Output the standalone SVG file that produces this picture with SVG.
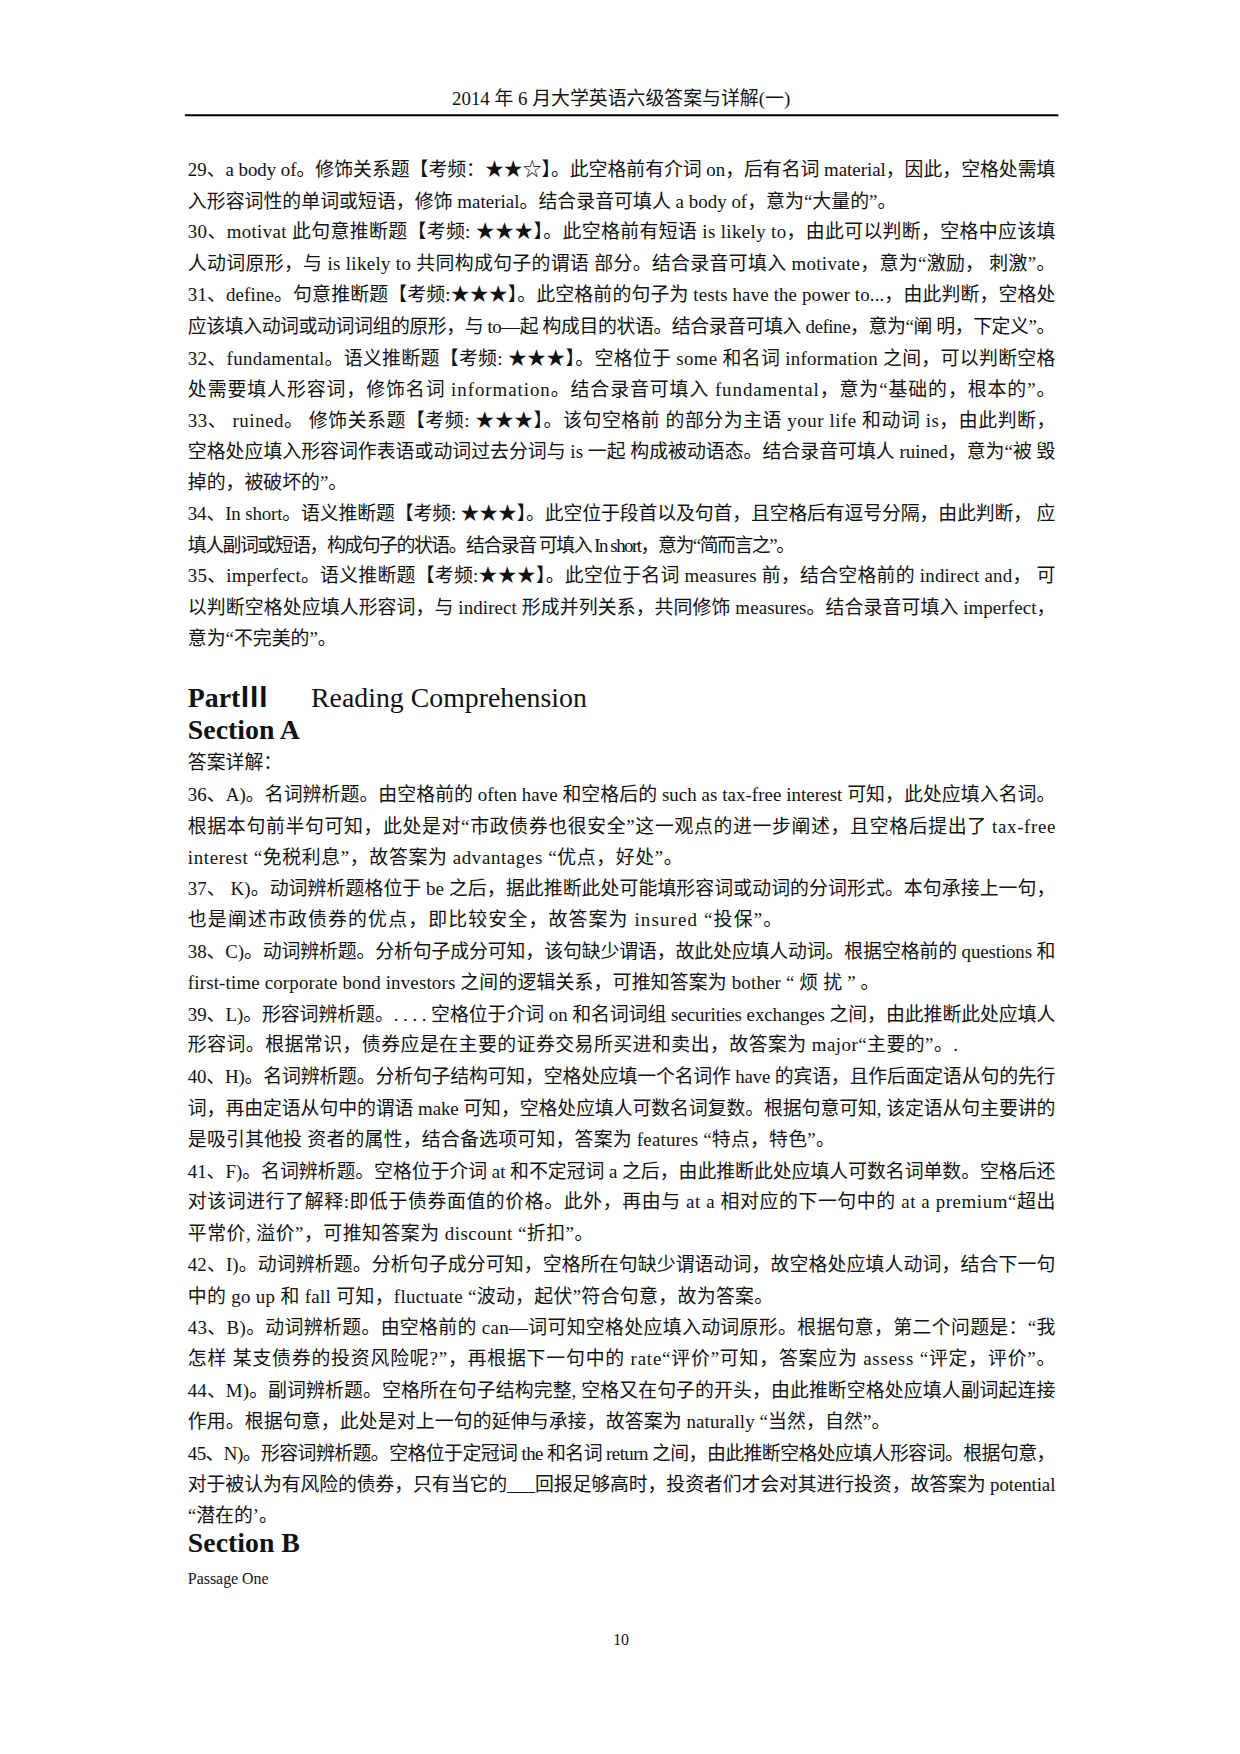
<svg xmlns="http://www.w3.org/2000/svg" width="1240" height="1754" viewBox="0 0 1240 1754">
<style>
text{font-family:"Liberation Serif","Noto Sans CJK SC",serif;font-size:19px;fill:#111}
.h{font-size:28px}
.b{font-weight:bold}
.s{font-size:16px}
</style>
<rect width="1240" height="1754" fill="#fff"/>
<g transform="scale(0.9938)">
<g id="header">
<text x="625" y="106" text-anchor="middle" font-size="18">2014 年 6 月大学英语六级答案与详解(一)</text>
<line x1="186" y1="116" x2="1065" y2="116" stroke="#000" stroke-width="2"/>
</g>
<g id="body" lengthAdjust="spacing">
<text x="189" y="177" textLength="873">29、a body of。修饰关系题【考频：★★☆】。此空格前有介词 on，后有名词 material，因此，空格处需填</text>
<text x="189" y="209" textLength="713">入形容词性的单词或短语，修饰 material。结合录音可填人 a body of，意为“大量的”。</text>
<text x="189" y="240" textLength="873">30、motivat 此句意推断题【考频: ★★★】。此空格前有短语 is likely to，由此可以判断，空格中应该填</text>
<text x="189" y="272" textLength="873">人动词原形，与 is likely to 共同构成句子的谓语 部分。结合录音可填入 motivate，意为“激励， 刺激”。</text>
<text x="189" y="303" textLength="873">31、define。句意推断题【考频:★★★】。此空格前的句子为 tests have the power to...，由此判断，空格处</text>
<text x="189" y="335" textLength="873">应该填入动词或动词词组的原形，与 to—起 构成目的状语。结合录音可填入 define，意为“阐 明，下定义”。</text>
<text x="189" y="367" textLength="873">32、fundamental。语义推断题【考频: ★★★】。空格位于 some 和名词 information 之间，可以判断空格</text>
<text x="189" y="398" textLength="873">处需要填人形容词，修饰名词 information。结合录音可填入 fundamental，意为“基础的，根本的”。</text>
<text x="189" y="430" textLength="873">33、 ruined。 修饰关系题【考频: ★★★】。该句空格前 的部分为主语 your life 和动词 is，由此判断，</text>
<text x="189" y="461" textLength="873">空格处应填入形容词作表语或动词过去分词与 is 一起 构成被动语态。结合录音可填人 ruined，意为“被 毁</text>
<text x="189" y="492">掉的，被破坏的”。</text>
<text x="189" y="523" textLength="873">34、In short。语义推断题【考频: ★★★】。此空位于段首以及句首，且空格后有逗号分隔，由此判断， 应</text>
<text x="189" y="555" textLength="611">填人副词或短语，构成句子的状语。结合录音 可填入 In short，意为“简而言之”。</text>
<text x="189" y="586" textLength="873">35、imperfect。语义推断题【考频:★★★】。此空位于名词 measures 前，结合空格前的 indirect and， 可</text>
<text x="189" y="618" textLength="873">以判断空格处应填人形容词，与 indirect 形成并列关系，共同修饰 measures。结合录音可填入 imperfect，</text>
<text x="189" y="649">意为“不完美的”。</text>
<text x="189" y="711" class="h"><tspan class="b">PartⅢ</tspan><tspan x="313">Reading Comprehension</tspan></text>
<text x="189" y="744" class="h b">Section A</text>
<text x="189" y="774">答案详解：</text>
<text x="189" y="806" textLength="873">36、A)。名词辨析题。由空格前的 often have 和空格后的 such as tax-free interest 可知，此处应填入名词。</text>
<text x="189" y="838" textLength="873">根据本句前半句可知，此处是对“市政债券也很安全”这一观点的进一步阐述，且空格后提出了 tax-free</text>
<text x="189" y="869" textLength="498">interest “免税利息”，故答案为 advantages “优点，好处”。</text>
<text x="189" y="901" textLength="873">37、 K)。动词辨析题格位于 be 之后，据此推断此处可能填形容词或动词的分词形式。本句承接上一句，</text>
<text x="189" y="932" textLength="598">也是阐述市政债券的优点，即比较安全，故答案为 insured “投保”。</text>
<text x="189" y="964" textLength="873">38、C)。动词辨析题。分析句子成分可知，该句缺少谓语，故此处应填人动词。根据空格前的 questions 和</text>
<text x="189" y="995" textLength="696">first-time corporate bond investors 之间的逻辑关系，可推知答案为 bother “ 烦 扰 ” 。</text>
<text x="189" y="1027" textLength="873">39、L)。形容词辨析题。. . . . 空格位于介词 on 和名词词组 securities exchanges 之间，由此推断此处应填人</text>
<text x="189" y="1058" textLength="775">形容词。根据常识，债券应是在主要的证券交易所买进和卖出，故答案为 major“主要的”。.</text>
<text x="189" y="1090" textLength="873">40、H)。名词辨析题。分析句子结构可知，空格处应填一个名词作 have 的宾语，且作后面定语从句的先行</text>
<text x="189" y="1122" textLength="873">词，再由定语从句中的谓语 make 可知，空格处应填人可数名词复数。根据句意可知, 该定语从句主要讲的</text>
<text x="189" y="1153" textLength="651">是吸引其他投 资者的属性，结合备选项可知，答案为 features “特点，特色”。</text>
<text x="189" y="1185" textLength="873">41、F)。名词辨析题。空格位于介词 at 和不定冠词 a 之后，由此推断此处应填人可数名词单数。空格后还</text>
<text x="189" y="1216" textLength="873">对该词进行了解释:即低于债券面值的价格。此外，再由与 at a 相对应的下一句中的 at a premium“超出</text>
<text x="189" y="1248" textLength="408">平常价, 溢价”，可推知答案为 discount “折扣”。</text>
<text x="189" y="1279" textLength="873">42、I)。动词辨析题。分析句子成分可知，空格所在句缺少谓语动词，故空格处应填人动词，结合下一句</text>
<text x="189" y="1311" textLength="589">中的 go up 和 fall 可知，fluctuate “波动，起伏”符合句意，故为答案。</text>
<text x="189" y="1342" textLength="873">43、B)。动词辨析题。由空格前的 can—词可知空格处应填入动词原形。根据句意，第二个问题是：“我</text>
<text x="189" y="1374" textLength="873">怎样 某支债券的投资风险呢?”，再根据下一句中的 rate“评价”可知，答案应为 assess “评定，评价”。</text>
<text x="189" y="1406" textLength="873">44、M)。副词辨析题。空格所在句子结构完整, 空格又在句子的开头，由此推断空格处应填人副词起连接</text>
<text x="189" y="1437" textLength="707">作用。根据句意，此处是对上一句的延伸与承接，故答案为 naturally “当然，自然”。</text>
<text x="189" y="1469" textLength="873">45、N)。形容词辨析题。空格位于定冠词 the 和名词 return 之间，由此推断空格处应填人形容词。根据句意，</text>
<text x="189" y="1500" textLength="873">对于被认为有风险的债券，只有当它的___回报足够高时，投资者们才会对其进行投资，故答案为 potential</text>
<text x="189" y="1532">“潜在的’。</text>
<text x="189" y="1562" class="h b">Section B</text>
<text x="189" y="1594" class="s">Passage One</text>
<text x="625" y="1655" text-anchor="middle" class="s">10</text>
</g>
</g>
</svg>
